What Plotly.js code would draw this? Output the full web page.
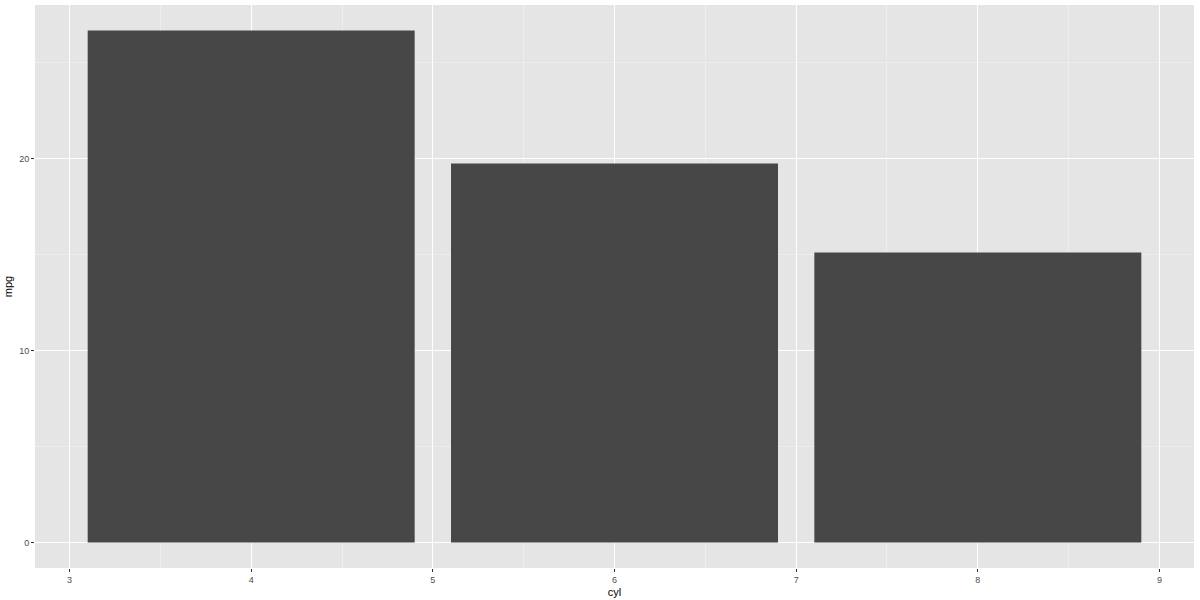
<!DOCTYPE html>
<html>
<head>
<meta charset="utf-8">
<script src="https://cdn.plot.ly/plotly-3.0.1.min.js"></script>
<style>
  html, body { margin: 0; padding: 0; background: #ffffff; }
  #chart { width: 1200px; height: 600px; }
</style>
</head>
<body>
<div id="chart"></div>
<script>
var cyl = [4, 6, 8]
var mpg = [26.66, 19.74, 15.10]
var xTicks = [3, 4, 5, 6, 7, 8, 9]
var yTicks = [0, 10, 20]

var bars = {
    type: 'bar',
    x: cyl,
    y: mpg,
    width: 1.8,
    marker: {
        color: '#474747',
        line: { width: 0 }
    },
    hoverinfo: 'x+y'
};

var layout = {
    width: 1200,
    height: 600,
    margin: { l: 35, r: 6, t: 5, b: 32 },
    paper_bgcolor: '#ffffff',
    plot_bgcolor: '#e5e5e5',
    showlegend: false,
    font: { family: 'Liberation Sans, Arial, sans-serif', color: '#4d4d4d', size: 9 },
    xaxis: {
        range: [2.81, 9.19],
        tickvals: xTicks,
        ticktext: xTicks.map(String),
        ticks: 'outside',
        ticklen: 3,
        tickwidth: 1,
        tickcolor: '#333333',
        showgrid: true,
        gridcolor: '#ffffff',
        gridwidth: 1.1,
        minor: { dtick: 0.5, tick0: 2.5, showgrid: true, gridcolor: '#f2f2f2', gridwidth: 0.6, ticks: '' },
        zeroline: false,
        showline: false,
        tickfont: { size: 9, color: '#4d4d4d' },
        title: { text: 'cyl', font: { size: 11, color: '#000000' }, standoff: 4 }
    },
    yaxis: {
        range: [-1.333, 27.993],
        tickvals: yTicks,
        ticktext: yTicks.map(String),
        ticks: 'outside',
        ticklen: 3,
        tickwidth: 1,
        tickcolor: '#333333',
        showgrid: true,
        gridcolor: '#ffffff',
        gridwidth: 1.1,
        minor: { dtick: 5, tick0: 5, showgrid: true, gridcolor: '#f2f2f2', gridwidth: 0.6, ticks: '' },
        zeroline: false,
        showline: false,
        tickfont: { size: 9, color: '#4d4d4d' },
        title: { text: 'mpg', font: { size: 11, color: '#000000' }, standoff: 4 }
    }
};

Plotly.newPlot('chart', [bars], layout, { displayModeBar: false, staticPlot: true });
</script>
</body>
</html>
